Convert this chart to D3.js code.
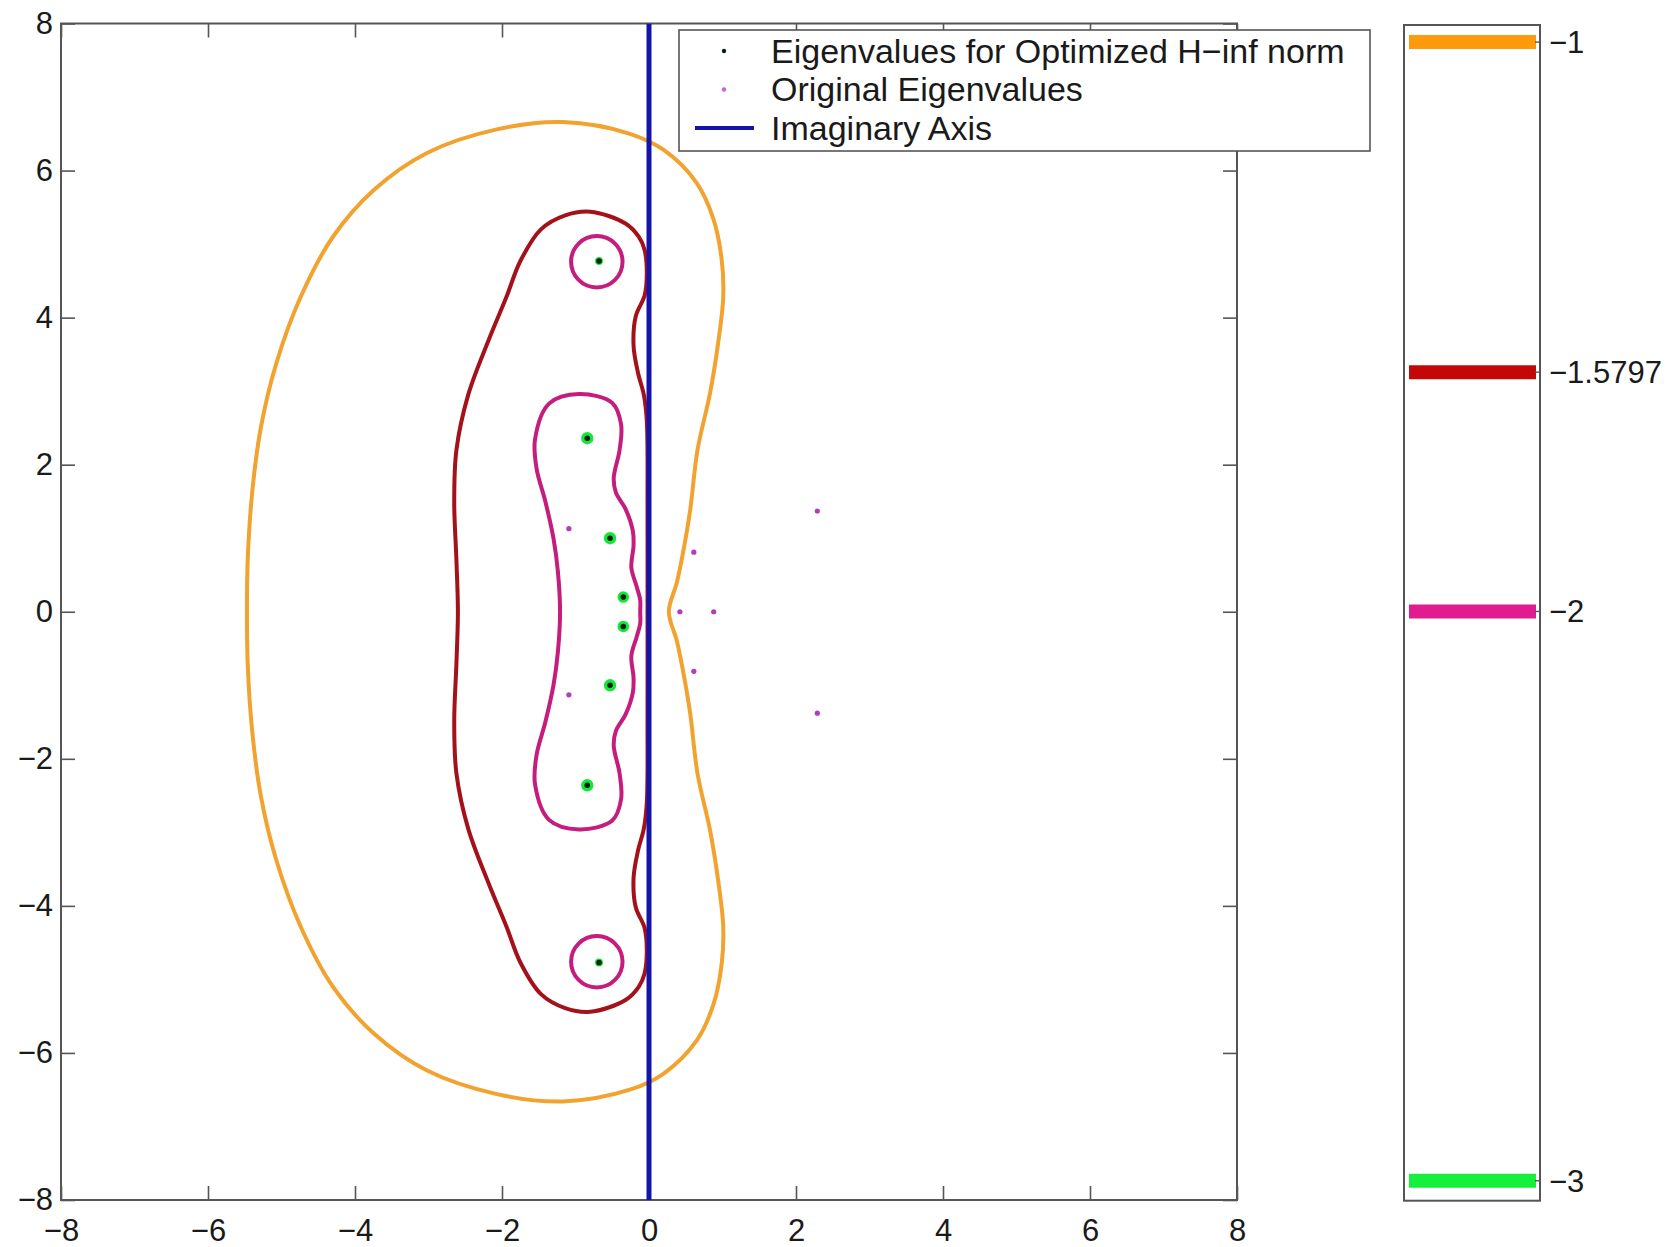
<!DOCTYPE html>
<html>
<head>
<meta charset="utf-8">
<script src="https://cdn.jsdelivr.net/npm/d3@7"></script>
<style>
  html, body { margin: 0; padding: 0; background: #fff; }
  svg { display: block; }
  text { font-family: "Liberation Sans", Arial, Helvetica, sans-serif; fill: #1a1a1a; }
</style>
</head>
<body>
<svg id="chart" width="1671" height="1247"></svg>
<script>
// ---- data -------------------------------------------------------------
// contour levels (log10 epsilon) and their colours
const levels = [-1, -1.5797, -2, -3];
const levelLabels = ["−1", "−1.5797", "−2", "−3"];
const levelColors = ["#f2a22e", "#a3111a", "#c41d7e", "#12e83a"];
const barColors   = ["#ff9a0c", "#c40808", "#e01c90", "#14f03c"];

// level -1 boundary
const contourA = [
  [0.27,0],[0.38,0.40],[0.47,0.84],[0.56,1.38],[0.66,2.20],[0.83,2.97],[0.94,3.65],[1.01,4.28],
  [0.99,4.78],[0.88,5.33],[0.65,5.83],[0.20,6.28],[-0.26,6.50],[-1.17,6.66],[-2.07,6.56],
  [-3.02,6.24],[-3.74,5.74],[-4.30,5.10],[-4.74,4.28],[-5.07,3.38],[-5.28,2.51],[-5.40,1.61],
  [-5.46,0.70],[-5.47,0],
  [-5.46,-0.70],[-5.40,-1.61],[-5.28,-2.51],[-5.07,-3.38],[-4.74,-4.28],[-4.30,-5.10],
  [-3.74,-5.74],[-3.02,-6.24],[-2.07,-6.56],[-1.17,-6.66],[-0.26,-6.50],[0.20,-6.28],
  [0.65,-5.83],[0.88,-5.33],[0.99,-4.78],[1.01,-4.28],[0.94,-3.65],[0.83,-2.97],[0.66,-2.20],
  [0.56,-1.38],[0.47,-0.84],[0.38,-0.40]
];

// level -1.5797 boundary
const contourB = [
  [-0.02,0],[-0.02,1.40],[-0.03,2.60],[-0.07,2.95],[-0.15,3.25],[-0.21,3.62],[-0.18,4.02],
  [-0.06,4.30],[-0.03,4.60],[-0.06,4.92],[-0.14,5.10],[-0.32,5.28],[-0.80,5.44],[-1.14,5.39],
  [-1.47,5.20],[-1.75,4.77],[-1.94,4.28],[-2.18,3.70],[-2.46,2.95],[-2.62,2.20],[-2.65,1.50],
  [-2.62,0.70],[-2.60,0],
  [-2.62,-0.70],[-2.65,-1.50],[-2.62,-2.20],[-2.46,-2.95],[-2.18,-3.70],[-1.94,-4.28],
  [-1.75,-4.77],[-1.47,-5.20],[-1.14,-5.39],[-0.80,-5.44],[-0.32,-5.28],[-0.14,-5.10],
  [-0.06,-4.92],[-0.03,-4.60],[-0.06,-4.30],[-0.18,-4.02],[-0.21,-3.62],[-0.15,-3.25],
  [-0.07,-2.95],[-0.03,-2.60],[-0.02,-1.40]
];

// level -2 boundary (main loop)
const contourC = [
  [-0.12,0],[-0.12,0.16],[-0.17,0.35],[-0.24,0.60],[-0.21,0.90],[-0.22,1.10],[-0.32,1.40],
  [-0.45,1.62],[-0.48,1.82],[-0.40,2.20],[-0.38,2.55],[-0.50,2.84],[-0.95,2.96],[-1.36,2.83],
  [-1.55,2.35],[-1.53,1.95],[-1.41,1.50],[-1.30,1.00],[-1.24,0.55],[-1.21,0],
  [-1.24,-0.55],[-1.30,-1.00],[-1.41,-1.50],[-1.53,-1.95],[-1.55,-2.35],[-1.36,-2.83],
  [-0.95,-2.96],[-0.50,-2.84],[-0.38,-2.55],[-0.40,-2.20],[-0.48,-1.82],[-0.45,-1.62],
  [-0.32,-1.40],[-0.22,-1.10],[-0.21,-0.90],[-0.24,-0.60],[-0.17,-0.35],[-0.12,-0.16]
];

// level -2 small loops: [centre x, centre y, radius]
const loopsC = [[-0.71, 4.76, 0.35], [-0.71, -4.76, 0.35]];

// level -3 tiny loops around the optimized eigenvalues: [centre x, centre y, radius]
const loopsD = [
  [-0.68, 4.77, 0.02], [-0.84, 2.36, 0.05], [-0.53, 1.00, 0.05], [-0.35, 0.20, 0.045],
  [-0.35, -0.20, 0.045], [-0.53, -1.00, 0.05], [-0.84, -2.36, 0.05], [-0.68, -4.77, 0.02]
];

// eigenvalues after H-inf optimisation
const optRe = [-0.68, -0.84, -0.53, -0.35, -0.35, -0.53, -0.84, -0.68];
const optIm = [4.77, 2.36, 1.00, 0.20, -0.20, -1.00, -2.36, -4.77];

// original eigenvalues
const origRe = [-1.09, -1.09, 0.61, 0.61, 0.42, 0.88, 2.29, 2.29];
const origIm = [1.13, -1.13, 0.81, -0.81, 0.00, 0.00, 1.37, -1.38];

const xTicks = [-8, -6, -4, -2, 0, 2, 4, 6, 8];
const yTicks = [-8, -6, -4, -2, 0, 2, 4, 6, 8];
const legendLabels = ["Eigenvalues for Optimized H−inf norm", "Original Eigenvalues", "Imaginary Axis"];

// ---- layout -----------------------------------------------------------
const svg = d3.select("#chart");
const plot = { left: 61, right: 1237, top: 23.5, bottom: 1200 };
const x = d3.scaleLinear().domain([-8, 8]).range([plot.left, plot.right]);
const y = d3.scaleLinear().domain([-8, 8]).range([plot.bottom, plot.top]);
const axisColor = "#555";
const fontSize = 31;

// clip for marks inside the axes
svg.append("defs").append("clipPath").attr("id", "plotclip")
  .append("rect")
  .attr("x", plot.left).attr("y", plot.top)
  .attr("width", plot.right - plot.left).attr("height", plot.bottom - plot.top);

// axes (ticks point inward, box drawn on all four sides)
const gx = svg.append("g").attr("transform", `translate(0,${plot.bottom})`)
  .call(d3.axisBottom(x).tickValues(xTicks).tickSizeInner(-14).tickSizeOuter(0).tickPadding(19));
const gy = svg.append("g").attr("transform", `translate(${plot.left},0)`)
  .call(d3.axisLeft(y).tickValues(yTicks).tickSizeInner(-14).tickSizeOuter(0).tickPadding(8));
const gxTop = svg.append("g").attr("transform", `translate(0,${plot.top})`)
  .call(d3.axisTop(x).tickValues(xTicks).tickSizeInner(-14).tickSizeOuter(0).tickFormat(""));
const gyRight = svg.append("g").attr("transform", `translate(${plot.right},0)`)
  .call(d3.axisRight(y).tickValues(yTicks).tickSizeInner(-14).tickSizeOuter(0).tickFormat(""));

[gx, gy, gxTop, gyRight].forEach(g => {
  g.select(".domain").remove();
  g.selectAll(".tick line").attr("stroke", axisColor).attr("stroke-width", 1.6);
  g.selectAll(".tick text").attr("font-size", fontSize)
    .style("font-family", '"Liberation Sans", Arial, Helvetica, sans-serif').attr("fill", "#1a1a1a");
});

svg.append("rect")
  .attr("x", plot.left).attr("y", plot.top)
  .attr("width", plot.right - plot.left).attr("height", plot.bottom - plot.top)
  .attr("fill", "none").attr("stroke", axisColor).attr("stroke-width", 2);

// ---- contours ---------------------------------------------------------
const marks = svg.append("g").attr("clip-path", "url(#plotclip)");
const loopLine = d3.line()
  .x(d => x(d[0])).y(d => y(d[1]))
  .curve(d3.curveCatmullRomClosed.alpha(0.5));

const px = x(1) - x(0); // pixels per unit

[[contourA, 0], [contourB, 1], [contourC, 2]].forEach(([pts, k]) => {
  marks.append("path")
    .attr("d", loopLine(pts))
    .attr("fill", "none")
    .attr("stroke", levelColors[k])
    .attr("stroke-width", 4)
    .attr("stroke-linejoin", "round");
});

marks.selectAll("circle.loopC").data(loopsC).join("circle")
  .attr("class", "loopC")
  .attr("cx", d => x(d[0])).attr("cy", d => y(d[1]))
  .attr("r", d => d[2] * px)
  .attr("fill", "none").attr("stroke", levelColors[2]).attr("stroke-width", 4);

marks.selectAll("circle.loopD").data(loopsD).join("circle")
  .attr("class", "loopD")
  .attr("cx", d => x(d[0])).attr("cy", d => y(d[1]))
  .attr("r", d => d[2] * px)
  .attr("fill", "none").attr("stroke", levelColors[3]).attr("stroke-width", 5);

// imaginary axis
const axisBlue = "#1414aa";
marks.append("line")
  .attr("x1", x(0)).attr("x2", x(0))
  .attr("y1", y(-8)).attr("y2", y(8))
  .attr("stroke", axisBlue).attr("stroke-width", 5);

// eigenvalues
const optColor = "#0a200f";
const origColor = "#b23cbc";
marks.selectAll("circle.opt").data(optRe.map((v, i) => [v, optIm[i]])).join("circle")
  .attr("class", "opt")
  .attr("cx", d => x(d[0])).attr("cy", d => y(d[1]))
  .attr("r", 2.8).attr("fill", optColor);

marks.selectAll("circle.orig").data(origRe.map((v, i) => [v, origIm[i]])).join("circle")
  .attr("class", "orig")
  .attr("cx", d => x(d[0])).attr("cy", d => y(d[1]))
  .attr("r", 2.6).attr("fill", origColor);

// ---- legend -----------------------------------------------------------
const leg = { x: 679, y: 30, w: 691, h: 121 };
const lg = svg.append("g");
lg.append("rect")
  .attr("x", leg.x).attr("y", leg.y).attr("width", leg.w).attr("height", leg.h)
  .attr("fill", "#fff").attr("stroke", axisColor).attr("stroke-width", 1.6);
const rowY = [51, 89.5, 128];
const keyX = 724;
lg.append("circle").attr("cx", keyX).attr("cy", rowY[0]).attr("r", 2.2).attr("fill", optColor);
lg.append("circle").attr("cx", keyX).attr("cy", rowY[1]).attr("r", 2.2).attr("fill", "#d060d8");
lg.append("line").attr("x1", keyX - 29).attr("x2", keyX + 30)
  .attr("y1", rowY[2]).attr("y2", rowY[2])
  .attr("stroke", axisBlue).attr("stroke-width", 4);
lg.selectAll("text").data(legendLabels).join("text")
  .attr("x", 771).attr("y", (d, i) => rowY[i]).attr("dy", "0.35em")
  .attr("font-size", 34).text(d => d);

// ---- colour bar -------------------------------------------------------
const cb = { left: 1404, right: 1540, top: 25, bottom: 1200.7 };
const c = d3.scaleLinear().domain([-0.97, -3.035]).range([cb.top, cb.bottom]);
const cg = svg.append("g");
cg.append("rect")
  .attr("x", cb.left).attr("y", cb.top)
  .attr("width", cb.right - cb.left).attr("height", cb.bottom - cb.top)
  .attr("fill", "#fff").attr("stroke", axisColor).attr("stroke-width", 2);
cg.selectAll("line.bar").data(levels).join("line")
  .attr("class", "bar")
  .attr("x1", cb.left + 5).attr("x2", cb.right - 4)
  .attr("y1", d => c(d)).attr("y2", d => c(d))
  .attr("stroke", (d, i) => barColors[i]).attr("stroke-width", 14);
cg.selectAll("line.tk").data(levels).join("line")
  .attr("class", "tk")
  .attr("x1", cb.right).attr("x2", cb.right - 5)
  .attr("y1", d => c(d)).attr("y2", d => c(d))
  .attr("stroke", axisColor).attr("stroke-width", 1.4);
cg.selectAll("text").data(levels).join("text")
  .attr("x", cb.right + 9).attr("y", d => c(d)).attr("dy", "0.35em")
  .attr("font-size", fontSize).text((d, i) => levelLabels[i]);
</script>
</body>
</html>
